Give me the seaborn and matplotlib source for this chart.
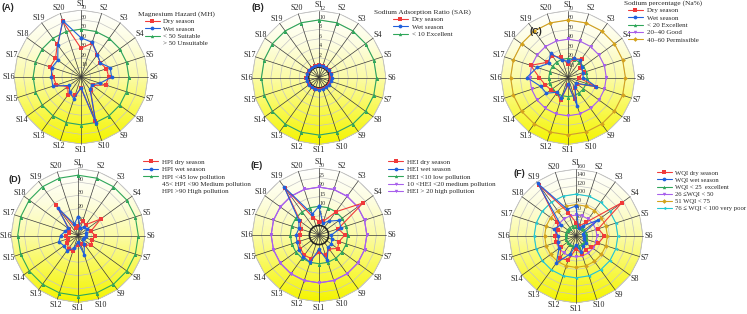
import numpy as np
import seaborn as sns
import matplotlib.pyplot as plt
from matplotlib.colors import LinearSegmentedColormap
from matplotlib.lines import Line2D

W, H = 747, 314

sites = ['S%d' % i for i in range(1, 21)]

# (A) Magnesium hazard
mh_dry = [30, 37, 29, 25, 28, 29, 27, 15, 17, 48, 12, 20, 23, 17, 27, 29, 34, 33, 42, 61]
mh_wet = [41, 38, 29, 25, 32, 32, 21, 14, 16, 51, 11, 24, 20, 15, 31, 31, 32, 30, 41, 62]
# (B) Sodium adsorption ratio
sar_dry = [0.35, 0.3, 0.3, 0.35, 0.4, 0.35, 0.3, 0.3, 0.3, 0.25, 0.3, 0.3, 0.25, 0.3, 0.35, 0.55, 0.35, 0.3, 0.3, 0.3]
sar_wet = [0.4, 0.4, 0.4, 0.45, 0.45, 0.45, 0.45, 0.4, 0.4, 0.4, 0.4, 0.45, 0.4, 0.4, 0.4, 0.5, 0.45, 0.45, 0.4, 0.4]
# (C) Sodium percentage
na_dry = [14, 20, 24, 16, 18, 11, 31, 11, 13, 24, 8, 25, 20, 22, 25, 30, 41, 27, 28, 22]
na_wet = [17, 21, 22, 18, 16, 16, 31, 10, 12, 31, 7, 23, 19, 28, 30, 43, 34, 25, 31, 19]
# (D) HPI
hpi_dry = [7, 11, 10, 21, 10, 13, 11, 12, 9, 7, 7, 12, 12, 10, 8, 9, 7, 8, 28, 6]
hpi_wet = [14, 6, 8, 8, 6, 6, 5, 5, 8, 15, 5, 10, 14, 13, 15, 13, 10, 9, 25, 9]
# (E) HEI
hei_dry = [2, 2.5, 10, 23.5, 5.5, 8.5, 6, 7, 4, 6, 4, 8, 8, 7, 6, 5, 5, 7, 25.5, 4.5]
hei_wet = [10, 1.5, 4, 8, 7, 1.5, 2, 3, 3, 9, 2.5, 10, 9, 8, 7, 7, 6, 8, 26, 6.5]
# (F) WQI
wqi_dry = [32, 25, 40, 136, 56, 68, 56, 45, 40, 45, 30, 61, 65, 45, 50, 50, 45, 55, 150, 59]
wqi_wet = [72, 20, 30, 65, 18, 18, 20, 30, 30, 40, 22, 45, 80, 50, 45, 42, 55, 45, 155, 67]

RED = '#f03a3a'
BLUE = '#1f5fdc'
GREEN = '#2fa65a'
PURPLE = '#a860ec'
ORANGE = '#d4a21c'
CYAN = '#22c8d0'

sns.set_theme(style='white')
plt.rcParams['font.family'] = ['Liberation Serif', 'DejaVu Serif']

bg_cmap = LinearSegmentedColormap.from_list(
    'bg', ['#f4f400', '#f8f850', '#fbfba8', '#fdfde0', '#ffffff'])

theta = np.linspace(0, 2 * np.pi, 20, endpoint=False)
theta_c = np.append(theta, theta[0])

fig = plt.figure(figsize=(W / 100, H / 100), dpi=100)


def radar(center, rmax, ticks, dry, wet, refs, rorigin=0.0, R=67):
    cx, cy = center
    ax = fig.add_axes([(cx - R) / W, 1 - (cy + R) / H, 2 * R / W, 2 * R / H],
                      projection='polar')
    ax.set_theta_zero_location('N')
    ax.set_theta_direction(-1)
    ax.set_facecolor('none')
    rlow = rorigin if rorigin < 0 else 0

    # gradient background inside the outer polygon
    poly = ax.fill(theta, [rmax] * 20, facecolor='none', edgecolor='#bdbdbd',
                   lw=0.6, zorder=1)[0]
    tt, rr = np.meshgrid(np.linspace(0, 2 * np.pi, 181), np.linspace(rlow, rmax, 40))
    mesh = ax.pcolormesh(tt, rr, (rr - rlow) * np.cos(tt), cmap=bg_cmap,
                         shading='gouraud', zorder=0)
    mesh.set_clip_path(poly)

    for t in ticks:
        if t > 0:
            ax.plot(theta_c, [t] * 21, color='#c4c4c4', lw=0.5, zorder=1)
    for th in theta:
        ax.plot([th, th], [rlow, rmax], color='#3a3a3a', lw=0.5, zorder=2,
                clip_on=False)

    for level, col, mk in refs:
        ax.plot(theta_c, [level] * 21, color=col, lw=0.8, marker=mk,
                markersize=2.4, markeredgewidth=0, zorder=3)

    for vals, col, mk in [(dry, RED, 's'), (wet, BLUE, 'o')]:
        sns.lineplot(x=theta_c, y=np.append(vals, vals[0]), ax=ax, sort=False,
                     estimator=None, color=col, marker=mk, markersize=2.7,
                     markeredgewidth=0, lw=0.8, zorder=4)

    ax.set_xlabel('')
    ax.set_ylabel('')
    ax.grid(False)
    for sp in ax.spines.values():
        sp.set_visible(False)
    ax.set_ylim(0, rmax)
    if rorigin < 0:
        ax.set_rorigin(rorigin)
    ax.set_xticks(theta)
    ax.set_xticklabels([])
    ax.tick_params(axis='x', size=0)
    ax.tick_params(axis='y', pad=0, size=0)
    # site labels just outside the outer polygon
    r_lab = rlow + (rmax - rlow) * 1.085
    for th, s in zip(theta, sites):
        ax.text(th, r_lab, s, fontsize=5.8, ha='center', va='center',
                clip_on=False)
    ax.set_yticks(ticks)
    ax.set_yticklabels([str(t) for t in ticks], fontsize=4.3, color='#333333')
    ax.set_rlabel_position(0)
    for lab in ax.get_yticklabels():
        lab.set_zorder(5)
    return ax


def legend(x, y, labels, refs, title=None, nohandle=0, fs=5):
    handles = [Line2D([], [], color=RED, marker='s', markersize=2.7, lw=0.8, markeredgewidth=0),
               Line2D([], [], color=BLUE, marker='o', markersize=2.7, lw=0.8, markeredgewidth=0)]
    for level, col, mk in refs:
        handles.append(Line2D([], [], color=col, marker=mk, markersize=2.4, lw=0.8,
                              markeredgewidth=0))
    for _ in range(nohandle):
        handles.append(Line2D([], [], color='none'))
    fig.legend(handles, labels, loc='upper left', bbox_to_anchor=(x / W, 1 - y / H),
               frameon=False, fontsize=fs, title=title, title_fontsize=5.3,
               borderpad=0, borderaxespad=0, labelspacing=0.22, handlelength=2.2,
               handletextpad=0.5)


def letter(x, y, s):
    fig.text(x / W, 1 - y / H, s, fontsize=6.5, fontweight='bold',
             family=['Liberation Sans', 'DejaVu Sans'], ha='center', va='center')


refs_a = [(50, GREEN, '^')]
refs_b = [(10, GREEN, '^')]
refs_c = [(20, GREEN, '^'), (40, PURPLE, 'v'), (60, ORANGE, 'D')]
refs_d = [(45, GREEN, '^')]
refs_e = [(10, GREEN, '^'), (20, PURPLE, 'v'), (20, PURPLE, 'v')]
refs_f = [(25, GREEN, '^'), (50, PURPLE, 'v'), (75, ORANGE, 'D'), (100, CYAN, '<')]

radar((81, 77), 70, list(range(10, 71, 10)), mh_dry, mh_wet, refs_a)
radar((319, 77.5), 12, list(range(2, 13, 2)), sar_dry, sar_wet, refs_b, rorigin=-2.2)
radar((568, 77.5), 70, list(range(10, 71, 10)), na_dry, na_wet, refs_c)
radar((78, 235.5), 50, list(range(10, 51, 10)), hpi_dry, hpi_wet, refs_d)
radar((319, 235), 30, list(range(0, 31, 5)), hei_dry, hei_wet, refs_e, rorigin=-5)
radar((576, 236), 160, list(range(20, 161, 20)), wqi_dry, wqi_wet, refs_f)

legend(138, 11, ['Dry season', 'Wet season', '< 50 Suitable', '> 50 Unsuitable'],
       refs_a, title='Magnesium Hazard (MH)', nohandle=1)
legend(374, 9, ['Dry season', 'Wet season', '< 10 Excellent'],
       refs_b, title='Sodium Adsorption Ratio (SAR)')
legend(624, 0, ['Dry season', 'Wet season', '< 20 Excellent', '20\u201340 Good',
                '40\u201360 Permissible'], refs_c, title='Sodium percentage (Na%)')
legend(143, 159, ['HPI dry season', 'HPI wet season', 'HPI <45 low pollution',
                  '45< HPI <90 Medium pollution', 'HPI >90 High pollution'],
       refs_d, nohandle=2)
legend(388, 159, ['HEI dry season', 'HEI wet season', 'HEI <10 low pollution',
                  '10 <HEI <20 medium pollution', 'HEI > 20 high pollution'], refs_e)
legend(657, 170, ['WQI dry season', 'WQI wet season', 'WQI < 25  excellent',
                  '26 \u2264WQI < 50', '51 WQI < 75', '76 \u2264 WQI < 100 very poor'],
       refs_f, fs=4.8)

letter(7.5, 7, '(A)')
letter(257.5, 7.3, '(B)')
letter(536, 32, '(C)')
letter(15, 180, '(D)')
letter(256.5, 165, '(E)')
letter(519.5, 173, '(F)')

fig.savefig('out.png', dpi=100)
